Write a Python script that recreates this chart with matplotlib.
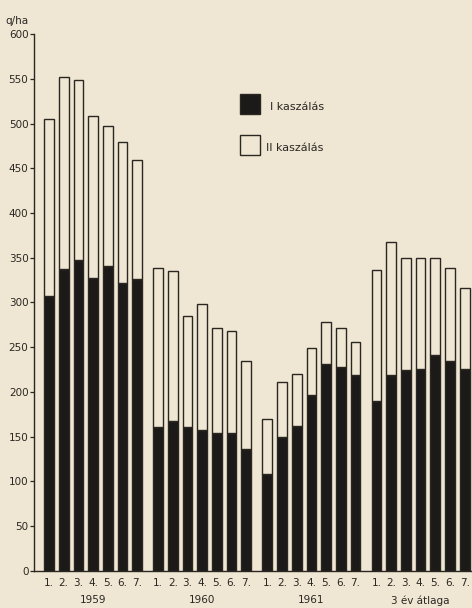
import numpy as np
import matplotlib.pyplot as plt

# yields in q/ha
years = ['1959', '1960', '1961', '3 év átlaga']
cuts = ['1.', '2.', '3.', '4.', '5.', '6.', '7.']

first_cut = [
    [307, 337, 348, 327, 341, 322, 326],
    [161, 167, 161, 157, 154, 154, 136],
    [108, 150, 162, 197, 231, 228, 219],
    [190, 219, 224, 226, 241, 235, 226],
]
total = [
    [505, 552, 549, 508, 497, 479, 459],
    [339, 335, 285, 298, 272, 268, 235],
    [170, 211, 220, 249, 278, 271, 256],
    [336, 368, 350, 350, 350, 338, 316],
]

bg = '#efe7d3'
ink = '#2a2622'
dark = '#1c1a18'

fig = plt.figure(figsize=(4.72, 6.08), dpi=100, facecolor=bg)
ax = fig.add_axes([0.072, 0.061, 0.928, 0.883], facecolor=bg)

group_step = 7.43
width = 0.66
for g, year in enumerate(years):
    x = g * group_step + np.arange(len(cuts))
    first = np.array(first_cut[g])
    second = np.array(total[g]) - first
    ax.bar(x, first, width, color=dark, edgecolor=ink, linewidth=1.0)
    ax.bar(x, second, width, bottom=first, color=bg, edgecolor=ink, linewidth=1.0)
    for xi, c in zip(x, cuts):
        ax.text(xi, -8, c, ha='center', va='top', fontsize=7.5, color=ink)
    ax.text(x.mean(), -27, year, ha='center', va='top', fontsize=7.5, color=ink)

ax.set_xlim(-1.02, 3 * group_step + 6 + 0.5)
ax.set_ylim(0, 600)
ax.set_yticks(np.arange(0, 601, 50))
ax.set_xticks([])
ax.tick_params(axis='y', direction='out', length=3, width=0.9, colors=ink,
               labelsize=7.5, pad=1)
for s in ['top', 'right']:
    ax.spines[s].set_visible(False)
for s in ['left', 'bottom']:
    ax.spines[s].set_color(ink)
    ax.spines[s].set_linewidth(1.0)

fig.text(0.012, 0.965, 'q/ha', fontsize=7.5, color=ink, va='center')

# legend drawn by hand like the original
fig.patches.append(plt.Rectangle((240 / 472, 1 - 114 / 608), 20 / 472, 20 / 608,
                                 transform=fig.transFigure, facecolor=dark,
                                 edgecolor=ink, linewidth=1.0))
fig.patches.append(plt.Rectangle((240 / 472, 1 - 155 / 608), 20 / 472, 20 / 608,
                                 transform=fig.transFigure, facecolor=bg,
                                 edgecolor=ink, linewidth=1.0))
fig.text(270 / 472, 1 - 107 / 608, 'I kaszálás', fontsize=8, color=ink, va='center')
fig.text(266 / 472, 1 - 148 / 608, 'II kaszálás', fontsize=8, color=ink, va='center')

fig.savefig('out.png', dpi=100, facecolor=bg)
